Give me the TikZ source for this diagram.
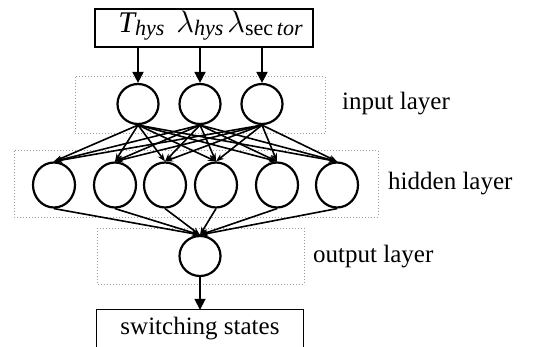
\RequirePackage{fix-cm}
\documentclass[tikz,border=0pt]{standalone}
\usepackage{fontspec}
\setmainfont{Liberation Serif}
\usetikzlibrary{arrows.meta,shapes.geometric}
\newcommand\subtxt[1]{\raisebox{-0.3em}{\fontsize{22}{22}\selectfont #1}}
\newcommand\biglam{{\fontsize{31}{31}\selectfont$\lambda$}}
\begin{document}
\begin{tikzpicture}[x=1pt,y=-1pt,
  neuron/.style={draw, ellipse, line width=2.2pt, inner sep=0pt, minimum width=41pt, minimum height=40pt},
  hneuron/.style={neuron, minimum width=42pt, minimum height=45pt},
  layerbox/.style={draw=gray!80, dotted, line width=1pt},
  framebox/.style={draw, line width=1.1pt, inner sep=0pt},
  lbl/.style={anchor=west, font=\fontsize{25}{25}\selectfont, inner sep=0pt},
  bigarrow/.style={line width=1.8pt, -{Triangle[length=11pt,width=11pt]}},
  smallarrow/.style={line width=1.6pt, -{Stealth[length=8pt,width=6pt]}}
]
\useasboundingbox (0,0) rectangle (534,347);

% dotted layer boxes
\draw[layerbox] (75,77) rectangle (325,134);
\draw[layerbox] (14,151) rectangle (378,217);
\draw[layerbox] (97,228) rectangle (304,284);

% top input box
\node[framebox, minimum width=218pt, minimum height=38pt] (top) at (204,28) {};
\node[inner sep=0pt, anchor=base] (toptxt) at (210.5,33)
  {{\fontsize{30}{30}\selectfont\itshape T}\subtxt{\itshape hys}\hspace{12pt}\biglam\subtxt{\itshape hys}\hspace{4pt}\biglam\subtxt{sec\,\itshape tor}};

% input layer
\node[neuron] (i1) at (138,104) {};
\node[neuron] (i2) at (200,104) {};
\node[neuron] (i3) at (262,104) {};

% hidden layer
\node[hneuron] (h1) at (54,185) {};
\node[hneuron] (h2) at (115,185) {};
\node[hneuron] (h3) at (165,185) {};
\node[hneuron] (h4) at (216,185) {};
\node[hneuron] (h5) at (277,185) {};
\node[hneuron] (h6) at (337,185) {};

% output layer
\node[neuron] (o1) at (200,256) {};

% switching states box (open at the bottom edge of the picture)
\node[inner sep=0pt, minimum width=206pt, minimum height=37pt, font=\fontsize{25}{25}\selectfont] (ss) at (200,328.5) {switching states};
\draw[line width=1.1pt] (ss.south west) -- (ss.north west) -- (ss.north east) -- (ss.south east);

% labels
\node[lbl] (lin) at (342,104) {input layer};
\node[lbl] (lhid) at (388,184) {hidden layer};
\node[lbl] (lout) at (313,257) {output layer};

% arrows
\foreach \i in {1,2,3} {
  \draw[bigarrow] (i\i |- top.south) -- (i\i.north);
  \foreach \h in {1,...,6} {
    \draw[smallarrow] (i\i.south) -- (h\h.north);
  }
}
\foreach \h in {1,...,6} {
  \draw[smallarrow] (h\h.south) -- (o1.north);
}
\draw[bigarrow] (o1.south) -- (ss.north);
\end{tikzpicture}
\end{document}
